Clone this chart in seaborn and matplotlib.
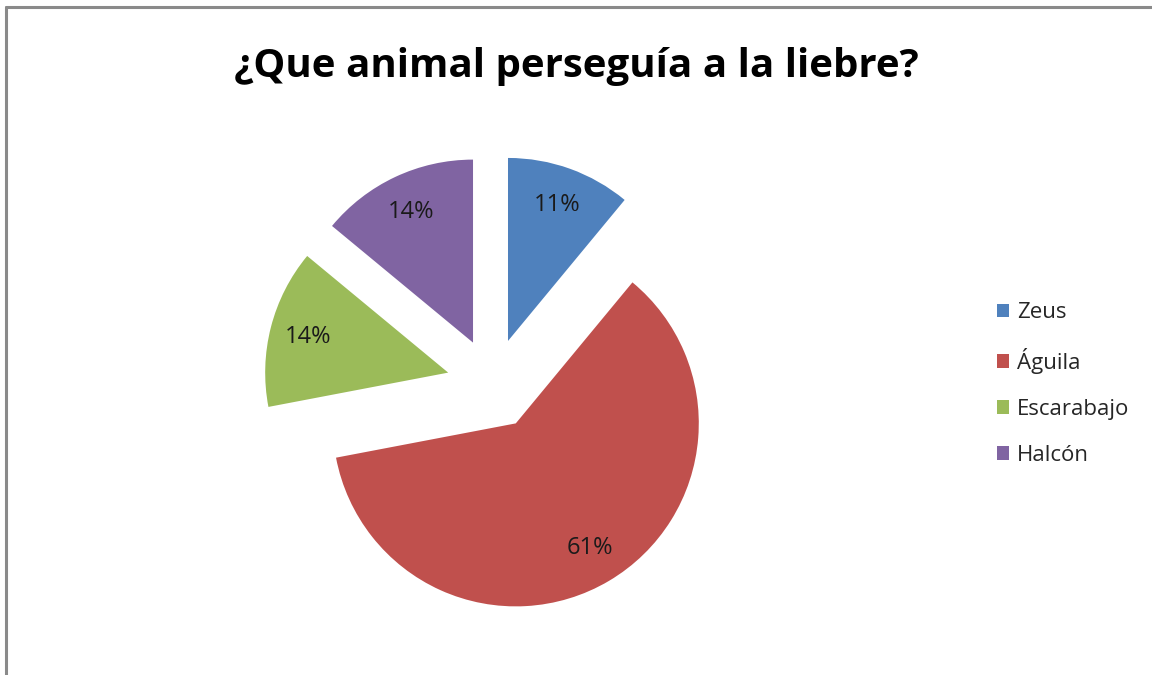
import matplotlib
matplotlib.use("Agg")
import matplotlib.pyplot as plt
from matplotlib.lines import Line2D
import seaborn as sns

# Data
categories = ["Zeus", "Águila", "Escarabajo", "Halcón"]
percentages = [11, 61, 14, 14]
colors = ["#4F81BD", "#C0504D", "#9BBB59", "#8064A2"]
title = "¿Que animal perseguía a la liebre?"

sns.set_theme(style="white")
plt.rcParams["font.family"] = ["Open Sans", "DejaVu Sans"]

W, H = 1152, 675
fig = plt.figure(figsize=(W / 100, H / 100), dpi=100)
fig.patch.set_facecolor("white")

# Square axes: pie radius 1 spans 183 px, centered at (492, 384) px
R = 183
cx, cy = 492.5, 384
half = 1.5 * R
ax = fig.add_axes([(cx - half) / W, (H - cy - half) / H, 2 * half / W, 2 * half / H])

wedges, texts, autotexts = ax.pie(
    percentages,
    colors=colors,
    startangle=90,
    counterclock=False,
    explode=[0.25] * len(percentages),
    autopct=lambda p: f"{p:.0f}%",
    pctdistance=0.79,
    wedgeprops=dict(linewidth=0),
    textprops=dict(fontsize=17, color="#1a1a1a"),
)
ax.set_xlim(-1.5, 1.5)
ax.set_ylim(-1.5, 1.5)
ax.set_aspect("equal")
ax.axis("off")

fig.text(0.5, 1 - 67 / H, title, ha="center", va="center",
         fontsize=29, fontweight="bold", color="black")

leg = fig.legend(
    wedges, categories,
    loc="center left", bbox_to_anchor=(986 / W, 1 - 384 / H),
    frameon=False, fontsize=16,
    handlelength=0.55, handleheight=0.55, handletextpad=0.35,
    labelspacing=1.12, borderpad=0,
)

# Gray frame along the top and left edges
frame_color = "#8a8a8a"
fig.add_artist(Line2D([6 / W, 1], [1 - 7 / H, 1 - 7 / H], color=frame_color,
                      linewidth=2.2, transform=fig.transFigure))
fig.add_artist(Line2D([6 / W, 6 / W], [0, 1 - 7 / H], color=frame_color,
                      linewidth=2.2, transform=fig.transFigure))

fig.savefig("out.png", dpi=100, facecolor="white")
